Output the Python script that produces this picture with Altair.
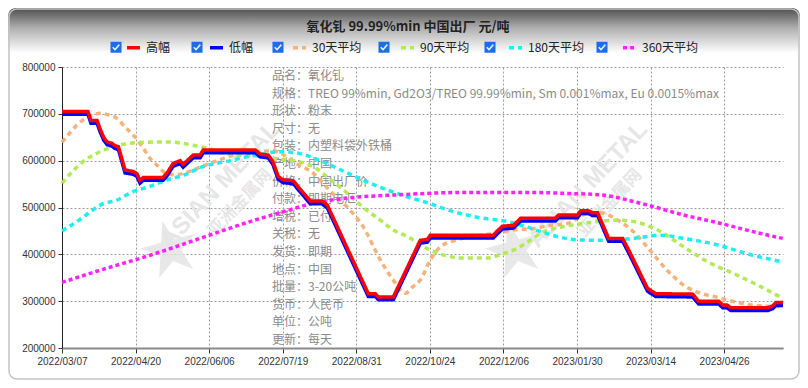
import altair as alt
import pandas as pd

CJK = "Noto Sans CJK SC"
NARROW = "Liberation Sans Narrow, Arial Narrow, Liberation Sans, sans-serif"

TITLE = "氧化钆 99.99%min 中国出厂 元/吨"
SERIES = ["高幅", "低幅", "30天平均", "90天平均", "180天平均", "360天平均"]
COLORS = ["#ff0000", "#0000ff", "#f5b27a", "#b2ea55", "#1cefef", "#ff22ff"]
DASHES = [[1, 0], [1, 0], [5, 4], [5, 4], [5, 4], [4, 3]]
WIDTHS = [3.5, 3.5, 1.6, 1.6, 2, 2]

X_TICK_POS = [0, 30, 60, 90, 120, 150, 180, 210, 240, 270]
X_TICK_LABELS = ["2022/03/07", "2022/04/20", "2022/06/06", "2022/07/19", "2022/08/31",
                 "2022/10/24", "2022/12/06", "2023/01/30", "2023/03/14", "2023/04/26"]
Y_TICKS = [200000, 250000, 300000, 350000, 400000, 450000, 500000, 550000,
           600000, 650000, 700000, 750000, 800000]

# trading-day index positions of the step line breakpoints
step_idx = [0, 10.6, 11.8, 14.3, 15.5, 17.0, 18.4, 20.4, 21.6, 23.0,
            25.7, 29.0, 30.6, 31.8, 33.1, 41.2, 43.0, 45.3, 48.2, 49.4,
            51.0, 53.5, 56.3, 57.6, 78.8, 80.8, 84.1, 86.0, 88.2, 90.2,
            94.3, 97.0, 101.2, 106.0, 108.2, 124.9, 127.8, 129.0, 135.1, 146.1,
            149.0, 150.2, 175.9, 177.5, 179.6, 184.1, 187.0, 201.2, 202.5, 210.2,
            211.5, 214.7, 216.3, 218.4, 222.9, 228.6, 231.0, 238.8, 242.1, 257.2,
            259.6, 267.8, 269.4, 271.1, 272.7, 287.8, 289.8, 291.0, 294.0]
high_val = [705000, 705000, 686000, 686000, 668000, 650000, 640000, 637000, 632000, 630000,
            580000, 577000, 572000, 558000, 564000, 564000, 575000, 594000, 600000, 592000,
            600000, 612000, 612000, 623000, 623000, 614000, 612000, 598000, 566000, 559000,
            557000, 540000, 514000, 514000, 505000, 316000, 316000, 309000, 309000, 430000,
            432000, 441000, 441000, 450000, 460000, 462000, 477000, 477000, 484000, 484000,
            493000, 493000, 489000, 489000, 434000, 434000, 410000, 327000, 316000, 315000,
            300000, 300000, 292000, 292000, 286000, 286000, 290000, 297000, 297000]
low_val = [699000, 699000, 680000, 680000, 662000, 644000, 634000, 631000, 626000, 624000,
           574000, 571000, 566000, 552000, 558000, 558000, 569000, 588000, 594000, 586000,
           594000, 606000, 606000, 617000, 617000, 608000, 606000, 592000, 560000, 553000,
           551000, 534000, 508000, 508000, 499000, 310000, 310000, 303000, 303000, 424000,
           426000, 435000, 435000, 444000, 454000, 456000, 471000, 471000, 478000, 478000,
           487000, 487000, 483000, 483000, 428000, 428000, 404000, 321000, 310000, 309000,
           294000, 294000, 286000, 286000, 280000, 280000, 284000, 291000, 291000]

avg30_idx = [0, 3.3, 6.1, 9.4, 12.7, 15.5, 18.8, 22.5, 25.7, 29.0, 32.7, 35.9, 39.2, 42.0,
             46.1, 51.0, 56.3, 63.3, 68.6, 79.6, 86.1, 89.0, 95.2, 102.5, 109.4, 116.3,
             122.9, 129.8, 135.1, 140.0, 142.9, 146.1, 150.2, 154.3, 161.2, 170.6, 177.6,
             184.1, 192.3, 199.2, 206.1, 214.3, 219.6, 226.6, 233.1, 239.7, 246.6, 253.5,
             260.4, 267.4, 273.9, 280.9, 293.9]
avg30_val = [639000, 660000, 676000, 690000, 698000, 701000, 698000, 690000, 672000, 655000,
             630000, 605000, 588000, 574000, 570000, 575000, 586000, 600000, 610000, 619000,
             621000, 616000, 595000, 573000, 535000, 501000, 458000, 388000, 345000, 317000,
             330000, 345000, 388000, 416000, 431000, 441000, 445000, 452000, 455000, 462000,
             466000, 487000, 489000, 473000, 448000, 409000, 367000, 334000, 317000, 308000,
             299000, 292000, 288000]

avg90_idx = [0, 4.1, 8.6, 15.5, 22.5, 31.8, 42.9, 53.5, 60.4, 68.6, 80.8, 89.0, 97.2,
             102.5, 109.4, 116.3, 122.9, 129.8, 135.1, 140.8, 150.2, 163.7, 173.5, 178.8,
             184.1, 191.0, 196.3, 203.3, 212.7, 219.6, 226.6, 233.1, 242.9, 253.5, 263.3,
             273.9, 284.9, 293.9]
avg90_val = [552000, 576000, 598000, 619000, 632000, 639000, 640000, 633000, 625000, 613000,
             609000, 603000, 597000, 587000, 560000, 531000, 500000, 473000, 452000, 438000,
             409000, 392000, 392000, 400000, 409000, 430000, 448000, 458000, 466000, 471000,
             473000, 470000, 452000, 416000, 384000, 359000, 331000, 306000]

avg180_idx = [0, 6.1, 11.4, 15.5, 22.5, 29.0, 35.9, 42.9, 50.2, 56.3, 68.6, 78.8, 89.0,
              97.2, 105.3, 116.3, 129.8, 140.8, 150.2, 157.2, 170.6, 181.7, 191.0, 197.2,
              210.2, 219.6, 233.1, 244.1, 253.5, 267.4, 280.9, 293.9]
avg180_val = [450000, 470000, 490000, 505000, 516000, 534000, 545000, 559000, 570000, 585000,
              600000, 612000, 619000, 615000, 600000, 574000, 543000, 523000, 508000, 495000,
              478000, 470000, 456000, 445000, 431000, 430000, 434000, 441000, 434000, 420000,
              399000, 384000]

avg360_idx = [0, 15.5, 35.9, 56.3, 76.7, 89.0, 102.5, 116.3, 136.7, 163.7, 191.0, 206.1,
              219.6, 235.9, 253.5, 268.6, 282.1, 293.9]
avg360_val = [340000, 366000, 398000, 434000, 470000, 489000, 509000, 520000, 527000, 532000,
              532000, 530000, 527000, 509000, 484000, 466000, 448000, 434000]

INFO_LABELS = ["品名：", "规格：", "形状：", "尺寸：", "包装：", "产地：", "价格：", "付款：",
               "增税：", "关税：", "发货：", "地点：", "批量：", "货币：", "单位：", "更新："]
INFO_VALUES = ["氧化钆", "TREO 99%min, Gd2O3/TREO 99.99%min, Sm 0.001%max, Eu 0.0015%max",
               "粉末", "无", "内塑料袋外铁桶", "中国", "中国出厂价", "即期电汇", "已付", "无",
               "即期", "中国", "3-20公吨", "人民币", "公吨", "每天"]

frames = []
for name, xs, ys in [
    ("高幅", step_idx, high_val), ("低幅", step_idx, low_val),
    ("30天平均", avg30_idx, avg30_val), ("90天平均", avg90_idx, avg90_val),
    ("180天平均", avg180_idx, avg180_val), ("360天平均", avg360_idx, avg360_val)]:
    frames.append(pd.DataFrame({"idx": xs, "value": ys, "series": name}))
df = pd.concat(frames, ignore_index=True)

W, H = 721, 281
PAD = {"left": 54, "top": 59, "right": 17, "bottom": 32}
LEG_X, LEG_Y, LEG_PAD = 63, -28, 32

label_expr = "[" + ",".join("'%s'" % s for s in X_TICK_LABELS) + "][round(datum.value/30)]"

LEG = alt.Legend(orient="none", legendX=LEG_X, legendY=LEG_Y, direction="horizontal", title=None,
                 symbolType="stroke", symbolSize=169, symbolStrokeWidth=2.5,
                 labelFont=CJK, labelFontSize=12, labelColor="#222", labelOffset=4,
                 columnPadding=LEG_PAD, padding=0)

x_enc = alt.X("idx:Q", scale=alt.Scale(domain=[0, 294], nice=False, zero=False),
              axis=alt.Axis(values=X_TICK_POS, labelExpr=label_expr, title=None, grid=True,
                            labelFont=NARROW, labelFontSize=10, labelColor="#333",
                            labelOverlap=False, labelFlush=False,
                            tickColor="#333", tickSize=5, domainColor="#8a8a8a", domainWidth=2,
                            labelPadding=3))
y_enc = alt.Y("value:Q", scale=alt.Scale(domain=[200000, 800000], nice=False, zero=False),
              axis=alt.Axis(values=Y_TICKS, format="d", title=None, grid=True,
                            labelFont=NARROW, labelFontSize=10, labelColor="#333",
                            labelOverlap=False,
                            tickColor="#333", tickSize=4, domainColor="#222", labelPadding=3))
color_enc = alt.Color("series:N", scale=alt.Scale(domain=SERIES, range=COLORS), legend=LEG)
dash_enc = alt.StrokeDash("series:N", scale=alt.Scale(domain=SERIES, range=DASHES), legend=LEG)
width_enc = alt.StrokeWidth("series:N", scale=alt.Scale(domain=SERIES, range=WIDTHS), legend=None)


def lines(names, interp):
    return alt.Chart(df).transform_filter(
        alt.FieldOneOfPredicate(field="series", oneOf=names)
    ).mark_line(interpolate=interp).encode(
        x=x_enc, y=y_enc, color=color_enc, strokeDash=dash_enc, strokeWidth=width_enc)


# checkbox legend (blue box with a white tick cut out); its symbol spans the same width
# as the line symbols and its (hidden) labels match, so both legends lay out identically
CHECKBOX = ("M-1,0H1"
            "M-0.85,-0.85H0.85V0.85H-0.85Z"
            "M-0.58,0.08L-0.15,0.55L0.6,-0.32L0.42,-0.48L-0.15,0.2L-0.42,-0.08Z")
CB_NAMES = [s + "\u200b" for s in SERIES]
cb_df = pd.DataFrame({"cb": CB_NAMES, "idx": [-50] * 6, "value": [100000] * 6})
cb_layer = alt.Chart(cb_df).mark_point(filled=True, color="#1b6fe0", clip=True, opacity=1).encode(
    x=alt.X("idx:Q"), y=alt.Y("value:Q"),
    shape=alt.Shape("cb:N", scale=alt.Scale(domain=CB_NAMES, range=[CHECKBOX] * 6),
                    legend=alt.Legend(orient="none", legendX=LEG_X - 17, legendY=LEG_Y,
                                      direction="horizontal", title=None, symbolSize=169,
                                      symbolStrokeWidth=2.5, symbolStrokeColor="transparent",
                                      symbolFillColor="#1b6fe0",
                                      labelFont=CJK, labelFontSize=12, labelColor="#222",
                                      labelOpacity=0,
                                      labelOffset=4, columnPadding=LEG_PAD, padding=0)))

one = pd.DataFrame({"k": [0]})
grad = alt.LinearGradient(gradient="linear", x1=0, x2=0, y1=0, y2=1,
                          stops=[alt.GradientStop(color="#4e4e4e", offset=0),
                                 alt.GradientStop(color="#b0b0b0", offset=0.45),
                                 alt.GradientStop(color="#ffffff", offset=1)])
header = alt.Chart(one).mark_rect(color=grad, cornerRadiusTopLeft=8, cornerRadiusTopRight=8).encode(
    x=alt.value(-54), x2=alt.value(W + 17), y=alt.value(-59), y2=alt.value(-14))
border = alt.Chart(one).mark_rect(fill="transparent", stroke="#c4c4c4", strokeWidth=1.5,
                                  cornerRadius=8).encode(
    x=alt.value(-53), x2=alt.value(W + 16), y=alt.value(-58), y2=alt.value(H + 31))
title = alt.Chart(one).mark_text(text=TITLE, font=CJK, fontSize=13, fontWeight="bold",
                                 color="#222", align="center", baseline="middle").encode(
    x=alt.value(346), y=alt.value(-40))

STAR = ("M0,-1L0.2245,-0.309L0.951,-0.309L0.363,0.118L0.588,0.809L0,0.382"
        "L-0.588,0.809L-0.363,0.118L-0.951,-0.309L-0.2245,-0.309Z")
wm = []
for sx, tx, cx in [(108, 158, 178), (453, 526, 548)]:
    wm.append(alt.Chart(one).mark_point(shape=STAR, filled=True, color="#e2e2e2", opacity=0.8,
                                        size=3600, angle=345).encode(
        x=alt.value(sx), y=alt.value(183)))
    wm.append(alt.Chart(one).mark_text(text="ASIAN METAL", font="Liberation Sans", fontSize=24,
                                       fontWeight="bold", color="#e6e6e6", angle=313).encode(
        x=alt.value(tx), y=alt.value(118)))
    wm.append(alt.Chart(one).mark_text(text="亚洲金属网", font=CJK, fontSize=17, fontWeight="bold",
                                       color="#e6e6e6", angle=313).encode(
        x=alt.value(cx), y=alt.value(136)))

info_l = alt.Chart(one).mark_text(align="left", baseline="top", font=CJK, fontSize=12,
                                  color="#8a8a8a", lineHeight=17.6).encode(
    x=alt.value(210), y=alt.value(4), text=alt.value(INFO_LABELS))
info_v = alt.Chart(one).mark_text(align="left", baseline="top", font=CJK, fontSize=12,
                                  color="#8a8a8a", lineHeight=17.6).encode(
    x=alt.value(246), y=alt.value(4), text=alt.value(INFO_VALUES))

chart = alt.layer(
    header, title, *wm, info_l, info_v,
    lines(SERIES[2:], "monotone"), lines(["低幅"], "linear"), lines(["高幅"], "linear"),
    cb_layer, border,
).properties(
    width=W, height=H, padding=PAD, autosize=alt.AutoSizeParams(type="none"),
    background="white",
).configure_view(stroke="transparent").configure_axis(
    gridColor="#9a9a9a", gridDash=[2, 2], gridWidth=1
)

chart.save("out.html", embed_options={"renderer": "svg", "actions": False})
